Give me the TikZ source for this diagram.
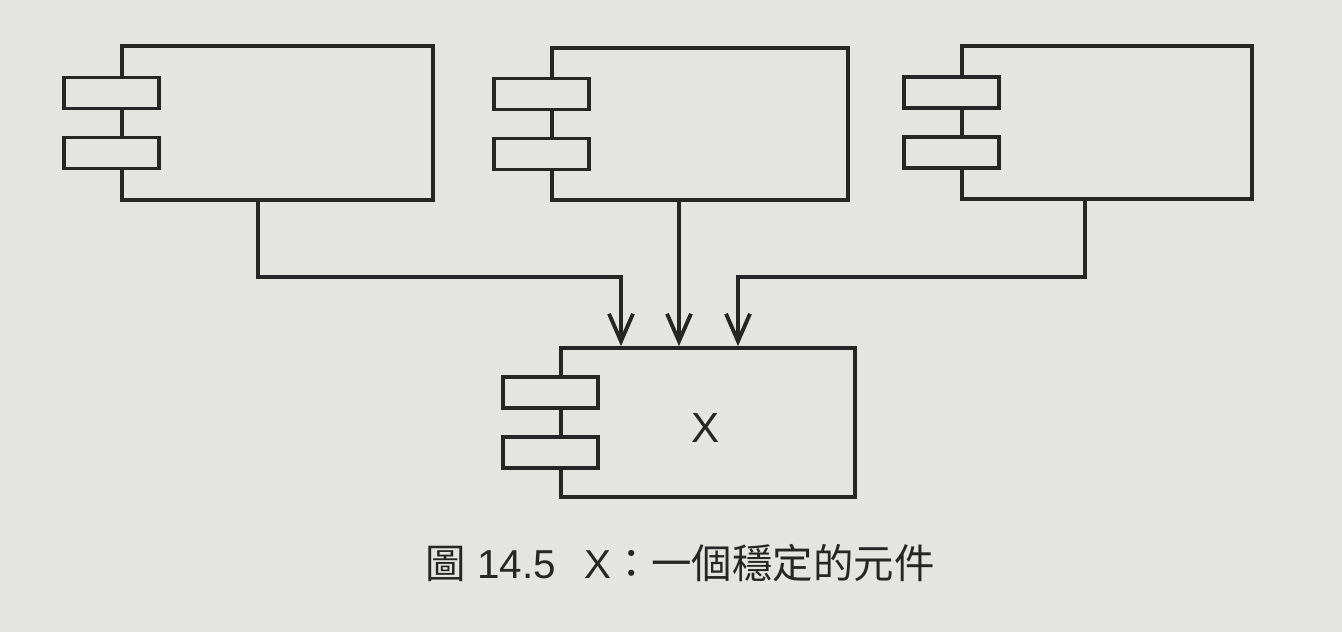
\documentclass[tikz,border=0pt]{standalone}
\usepackage{fontspec}
\setmainfont{Liberation Sans}
\newfontfamily\cjk{Noto Sans CJK TC}
\usepackage{tikz}
\usetikzlibrary{arrows.meta,positioning}
\definecolor{paper}{RGB}{228,228,225}
\definecolor{ink}{RGB}{38,38,38}

\begin{document}
\begin{tikzpicture}[>={Straight Barb[length=0.55cm,width=0.48cm]},line width=2.2pt,draw=ink]
			\tikzstyle{every node}=[scale=1.0]
			\tikzstyle{comp}=[draw=ink,fill=paper,line width=2.2pt,inner sep=0pt]
			\tikzstyle{tab}=[draw=ink,fill=paper,line width=2.2pt,inner sep=0pt,minimum width=1.9cm,minimum height=0.62cm]
			\tikzstyle{dep}=[->,draw=ink,line width=2.2pt]

			\fill[paper] (0,0) rectangle (26.84,-12.64);
			\useasboundingbox (0,0) rectangle (26.84,-12.64);

			% the three used components
			\node[comp,minimum width=6.22cm,minimum height=3.08cm] (A) at (5.55,-2.46) {};
			\node[comp,minimum width=5.92cm,minimum height=3.04cm] (B) at (14.0,-2.48) {};
			\node[comp,minimum width=5.80cm,minimum height=3.06cm] (C) at (22.14,-2.45) {};
			% the stable one
			\node[comp,minimum width=5.88cm,minimum height=2.98cm] (X) at (14.16,-8.45) {};
			\node[font=\fontsize{24}{28}\selectfont,text=ink] (Xlabel) at (14.12,-8.56) {X};

			\foreach \c in {A,B,C,X} {
				\node[tab] (\c top) at ([xshift=-0.18cm,yshift=0.6cm]\c.west) {};
				\node[tab] (\c bot) at ([xshift=-0.18cm,yshift=-0.6cm]\c.west) {};
			}

			\coordinate (bend) at (0,-5.54);
			\coordinate (mid) at (13.58,0);
			\draw[dep] ([xshift=-0.39cm]A.south) coordinate (a0) -- (a0 |- bend) -| ([xshift=-1.74cm]X.north);
			\draw[dep] (B.south -| mid) -- (X.north -| mid);
			\draw[dep] ([xshift=-0.44cm]C.south) coordinate (c0) -- (c0 |- bend) -| ([xshift=0.6cm]X.north);

			\node[font=\fontsize{23}{27}\selectfont,text=ink] (caption) at (13.6,-11.26)
				{{\cjk 圖} 14.5\hspace{0.7em}X{\cjk ：一個穩定的元件}};
		\end{tikzpicture}
\end{document}
